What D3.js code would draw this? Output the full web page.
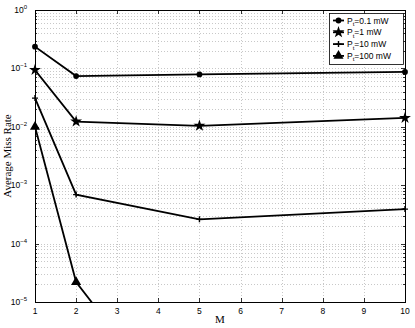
<!DOCTYPE html>
<html>
<head>
<meta charset="utf-8">
<script src="https://cdnjs.cloudflare.com/ajax/libs/d3/7.8.5/d3.min.js"></script>
<style>
body { margin: 0; background: #fff; }
svg text { font-family: "Liberation Sans", Arial, sans-serif; }
</style>
</head>
<body>
<script>
// values
var mValues = [1, 2, 5, 10];
var seriesNames = ["0.1 mW", "1 mW", "10 mW", "100 mW"];
var seriesShapes = ["circle", "star", "plus", "triangle"];
var rate01 = [0.235, 0.074, 0.079, 0.087];
var rate1 = [0.094, 0.0123, 0.0104, 0.0142];
var rate10 = [0.031, 0.00069, 0.00026, 0.00039];
var rate100 = [0.0100, 0.000022, 0.00000004, 0.00000001];
var xTicks = [1, 2, 3, 4, 5, 6, 7, 8, 9, 10];
var yExps = [0, -1, -2, -3, -4, -5];

function init() {
    var w = 415, h = 328;
    var left = 35, right = 405, top = 10, bottom = 302;

    var allRates = [rate01, rate1, rate10, rate100];

    var svg = d3.select("body").append("svg").attr("width", w).attr("height", h);

    var xScale = d3.scaleLinear().domain([1, 10]).range([left, right]);
    var yScale = d3.scaleLog().domain([1e-5, 1]).range([bottom, top]);

    svg.append("defs").append("clipPath").attr("id", "plotclip")
        .append("rect").attr("x", left).attr("y", top)
        .attr("width", right - left).attr("height", bottom - top);

    // grid
    var minor = [];
    for (var e = -5; e < 0; e++) {
        for (var k = 1; k <= 9; k++) minor.push(k * Math.pow(10, e));
    }
    svg.append("g").selectAll("line.gy")
        .data(minor.filter(function (v) { return v > 1e-5 * 1.01; }))
        .enter().append("line")
        .attr("x1", left).attr("x2", right)
        .attr("y1", function (d) { return Math.round(yScale(d)) + 0.5; })
        .attr("y2", function (d) { return Math.round(yScale(d)) + 0.5; })
        .attr("stroke", "#b0b0b0").attr("stroke-width", 0.7)
        .attr("stroke-dasharray", "1,2");
    svg.append("g").selectAll("line.gx")
        .data(xTicks.slice(1, -1))
        .enter().append("line")
        .attr("y1", top).attr("y2", bottom)
        .attr("x1", function (d) { return Math.round(xScale(d)) + 0.5; })
        .attr("x2", function (d) { return Math.round(xScale(d)) + 0.5; })
        .attr("stroke", "#b0b0b0").attr("stroke-width", 0.7)
        .attr("stroke-dasharray", "1,2");

    // inward ticks
    var tk = svg.append("g").attr("stroke", "#000").attr("stroke-width", 0.8);
    xTicks.forEach(function (t) {
        var x = Math.round(xScale(t)) + 0.5;
        tk.append("line").attr("x1", x).attr("x2", x).attr("y1", bottom).attr("y2", bottom - 4);
        tk.append("line").attr("x1", x).attr("x2", x).attr("y1", top).attr("y2", top + 4);
    });
    minor.concat([1]).forEach(function (v) {
        var y = Math.round(yScale(v)) + 0.5;
        var len = Math.abs(Math.log10(v) - Math.round(Math.log10(v))) < 1e-9 ? 4 : 2;
        tk.append("line").attr("x1", left).attr("x2", left + len).attr("y1", y).attr("y2", y);
        tk.append("line").attr("x1", right).attr("x2", right - len).attr("y1", y).attr("y2", y);
    });

    // frame
    svg.append("rect").attr("x", left + 0.5).attr("y", top + 0.5)
        .attr("width", right - left).attr("height", bottom - top)
        .attr("fill", "none").attr("stroke", "#000").attr("stroke-width", 1);

    // x tick labels
    svg.append("g").selectAll("text")
        .data(xTicks).enter().append("text")
        .attr("x", function (d) { return xScale(d); })
        .attr("y", bottom + 12)
        .attr("text-anchor", "middle")
        .attr("font-size", 8.5)
        .text(function (d) { return d; });

    // y tick labels
    var yl = svg.append("g").selectAll("text")
        .data(yExps).enter().append("text")
        .attr("x", 27)
        .attr("y", function (d) { return yScale(Math.pow(10, d)) + 3; })
        .attr("text-anchor", "end")
        .attr("font-size", 8.5);
    yl.append("tspan").text("10");
    yl.append("tspan").attr("dy", -4).attr("font-size", 6)
        .text(function (d) { return d === 0 ? "0" : "\u2212" + (-d); });

    // axis titles
    svg.append("text")
        .attr("x", (left + right) / 2).attr("y", 323)
        .attr("text-anchor", "middle")
        .style("font-family", "'Liberation Serif', 'Times New Roman', serif")
        .attr("font-size", 11)
        .text("M");
    svg.append("text")
        .attr("transform", "translate(11," + ((top + bottom) / 2) + ") rotate(-90)")
        .attr("text-anchor", "middle")
        .style("font-family", "'Liberation Serif', 'Times New Roman', serif")
        .attr("font-size", 11)
        .text("Average Miss Rate");

    var line = d3.line()
        .x(function (d) { return xScale(d[0]); })
        .y(function (d) { return yScale(d[1]); });

    var symbolOf = {
        circle: d3.symbol().type(d3.symbolCircle).size(26),
        star: d3.symbol().type(d3.symbolStar).size(44),
        triangle: d3.symbol().type(d3.symbolTriangle).size(44)
    };

    function drawMarker(g, shape, x, y) {
        if (shape === "plus") {
            g.append("path").attr("transform", "translate(" + x + "," + y + ")")
                .attr("d", "M-3,0H3M0,-3V3").attr("stroke", "#000").attr("stroke-width", 1.4);
        } else {
            g.append("path").attr("transform", "translate(" + x + "," + y + ")")
                .attr("d", symbolOf[shape]()).attr("fill", "#000");
        }
    }

    var plot = svg.append("g").attr("clip-path", "url(#plotclip)");
    var marks = svg.append("g");

    allRates.forEach(function (rates, i) {
        var pts = mValues.map(function (m, j) { return [m, rates[j]]; });
        plot.append("path")
            .attr("d", line(pts))
            .attr("fill", "none")
            .attr("stroke", "#000")
            .attr("stroke-width", 1.8);
        pts.filter(function (d) { return d[1] >= 1e-5; }).forEach(function (d) {
            drawMarker(marks, seriesShapes[i], xScale(d[0]), yScale(d[1]));
        });
    });

    // legend
    var lg = svg.append("g");
    lg.append("rect").attr("x", 329.5).attr("y", 13.5).attr("width", 74).attr("height", 51)
        .attr("fill", "#fff").attr("stroke", "#000").attr("stroke-width", 0.8);
    seriesNames.forEach(function (name, i) {
        var y = 20.5 + i * 11.8;
        lg.append("line").attr("x1", 333).attr("x2", 344).attr("y1", y).attr("y2", y)
            .attr("stroke", "#000").attr("stroke-width", 1.8);
        drawMarker(lg, seriesShapes[i], 338.5, y);
        var t = lg.append("text").attr("x", 347).attr("y", y + 3).attr("font-size", 8.5);
        t.append("tspan").text("P");
        t.append("tspan").attr("dy", 2.5).attr("font-size", 6).text("t");
        t.append("tspan").attr("dy", -2.5).text("=" + name);
    });
}

window.onload = init;
</script>
</body>
</html>
